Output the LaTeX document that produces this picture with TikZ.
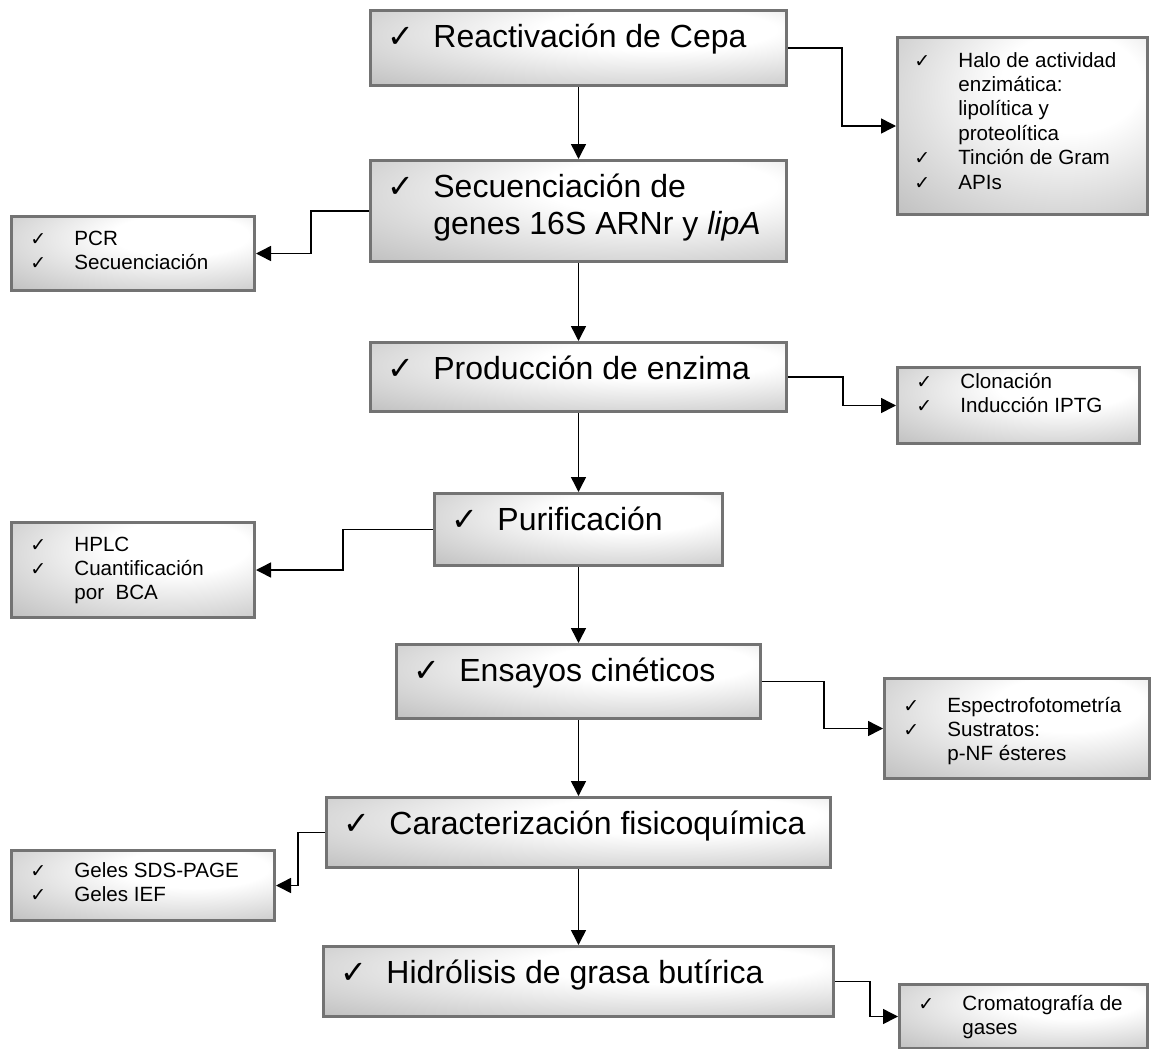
\documentclass[tikz,border=0pt]{standalone}
\usepackage{fontspec}
\setmainfont{Liberation Sans}
\newfontfamily\symfont{DejaVu Sans}
\usetikzlibrary{calc,positioning,arrows.meta,shadings}
\pgfdeclareradialshading{boxshade}{\pgfpoint{12bp}{15bp}}{color(0bp)=(white); color(14bp)=(white); color(50bp)=(black!30); color(75bp)=(black!42)}
\newcommand{\chk}{{\symfont ✓}}
\newcommand{\smallchk}{{\symfont\fontsize{9.5}{10}\selectfont ✓}}
\def\px{0.5pt}

\begin{document}
\begin{tikzpicture}[x=0.5pt, y=-0.5pt]
  \tikzset{
    stepbox/.style={rectangle, draw=black!55, line width=1.5pt, shading=boxshade, anchor=north west, inner sep=0pt},
    steptext/.style={anchor=base west, inner sep=0pt, font=\fontsize{16}{18.5}\selectfont},
    toolbox/.style={stepbox},
    tooltext/.style={anchor=base west, inner sep=0pt, font=\fontsize{10.3}{12.2}\selectfont},
    flow/.style={draw=black, line width=0.75pt, -{Triangle[length=7.5pt,width=7.5pt]}}
  }
  \useasboundingbox (0,0) rectangle (1151,1049);

  % main steps
  \node at (369,9) [stepbox, minimum width=416*\px, minimum height=75*\px] (react) {};
  \node at (369,159) [stepbox, minimum width=416*\px, minimum height=101*\px] (secu) {};
  \node at (369,341) [stepbox, minimum width=416*\px, minimum height=69*\px] (prod) {};
  \node at (433,492) [stepbox, minimum width=288*\px, minimum height=72*\px] (puri) {};
  \node at (395,643) [stepbox, minimum width=364*\px, minimum height=74*\px] (ensa) {};
  \node at (325,796) [stepbox, minimum width=504*\px, minimum height=70*\px] (cara) {};
  \node at (322,945) [stepbox, minimum width=510*\px, minimum height=70*\px] (hidr) {};

  \node [steptext] at ($(react.north west)+(18,38)$) (reactT) {\begin{tabular}[t]{@{}p{23pt}@{}l@{}}\chk & Reactivación de Cepa\end{tabular}};
  \node [steptext] at ($(secu.north west)+(18,38)$) (secuT) {\begin{tabular}[t]{@{}p{23pt}@{}l@{}}\chk & Secuenciación de\\ & genes 16S ARNr y \textit{lipA}\end{tabular}};
  \node [steptext] at ($(prod.north west)+(18,38)$) (prodT) {\begin{tabular}[t]{@{}p{23pt}@{}l@{}}\chk & Producción de enzima\end{tabular}};
  \node [steptext] at ($(puri.north west)+(18,38)$) (puriT) {\begin{tabular}[t]{@{}p{23pt}@{}l@{}}\chk & Purificación\end{tabular}};
  \node [steptext] at ($(ensa.north west)+(18,38)$) (ensaT) {\begin{tabular}[t]{@{}p{23pt}@{}l@{}}\chk & Ensayos cinéticos\end{tabular}};
  \node [steptext] at ($(cara.north west)+(18,38)$) (caraT) {\begin{tabular}[t]{@{}p{23pt}@{}l@{}}\chk & Caracterización fisicoquímica\end{tabular}};
  \node [steptext] at ($(hidr.north west)+(18,38)$) (hidrT) {\begin{tabular}[t]{@{}p{23pt}@{}l@{}}\chk & Hidrólisis de grasa butírica\end{tabular}};

  % side boxes
  \node at (896,36) [toolbox, minimum width=250*\px, minimum height=177*\px] (halo) {};
  \node at (10,215) [toolbox, minimum width=243*\px, minimum height=74*\px] (pcr) {};
  \node at (896,366) [toolbox, minimum width=242*\px, minimum height=76*\px] (clon) {};
  \node at (10,521) [toolbox, minimum width=243*\px, minimum height=95*\px] (hplc) {};
  \node at (883,677) [toolbox, minimum width=265*\px, minimum height=100*\px] (espe) {};
  \node at (10,849) [toolbox, minimum width=263*\px, minimum height=70*\px] (gel) {};
  \node at (898,983) [toolbox, minimum width=248*\px, minimum height=64*\px] (crom) {};

  \node [tooltext] at ($(halo.north west)+(18,31)$) (haloT) {\begin{tabular}[t]{@{}p{22pt}@{}l@{}}\smallchk & Halo de actividad\\ & enzimática:\\ & lipolítica y\\ & proteolítica\\ \smallchk & Tinción de Gram\\ \smallchk & APIs\end{tabular}};
  \node [tooltext] at ($(pcr.north west)+(20,30)$) (pcrT) {\begin{tabular}[t]{@{}p{22pt}@{}l@{}}\smallchk & PCR\\ \smallchk & Secuenciación\end{tabular}};
  \node [tooltext] at ($(clon.north west)+(20,22)$) (clonT) {\begin{tabular}[t]{@{}p{22pt}@{}l@{}}\smallchk & Clonación\\ \smallchk & Inducción IPTG\end{tabular}};
  \node [tooltext] at ($(hplc.north west)+(20,30)$) (hplcT) {\begin{tabular}[t]{@{}p{22pt}@{}l@{}}\smallchk & HPLC\\ \smallchk & Cuantificación\\ & por~ BCA\end{tabular}};
  \node [tooltext] at ($(espe.north west)+(20,35)$) (espeT) {\begin{tabular}[t]{@{}p{22pt}@{}l@{}}\smallchk & Espectrofotometría\\ \smallchk & Sustratos:\\ & p-NF ésteres\end{tabular}};
  \node [tooltext] at ($(gel.north west)+(20,28)$) (gelT) {\begin{tabular}[t]{@{}p{22pt}@{}l@{}}\smallchk & Geles SDS-PAGE\\ \smallchk & Geles IEF\end{tabular}};
  \node [tooltext] at ($(crom.north west)+(20,27)$) (cromT) {\begin{tabular}[t]{@{}p{22pt}@{}l@{}}\smallchk & Cromatografía de\\ & gases\end{tabular}};

  % main flow
  \draw[flow] (react.south) -- (secu.north);
  \draw[flow] (secu.south) -- (prod.north);
  \draw[flow] (prod.south) -- (puri.north);
  \draw[flow] (puri.south) -- (ensa.north);
  \draw[flow] (ensa.south) -- (cara.north);
  \draw[flow] (cara.south) -- (hidr.north);

  % side branches
  \draw[flow] (react.east) -- ++(54,0) |- (halo.west);
  \draw[flow] (secu.west) -- ++(-58,0) |- (pcr.east);
  \draw[flow] (prod.east) -- ++(55,0) |- (clon.west);
  \draw[flow] (puri.west) -- ++(-90,0) |- (hplc.east);
  \draw[flow] (ensa.east) -- ++(62,0) |- (espe.west);
  \draw[flow] (cara.west) -- ++(-27,0) |- (gel.east);
  \draw[flow] (hidr.east) -- ++(35,0) |- (crom.west);
\end{tikzpicture}
\end{document}
